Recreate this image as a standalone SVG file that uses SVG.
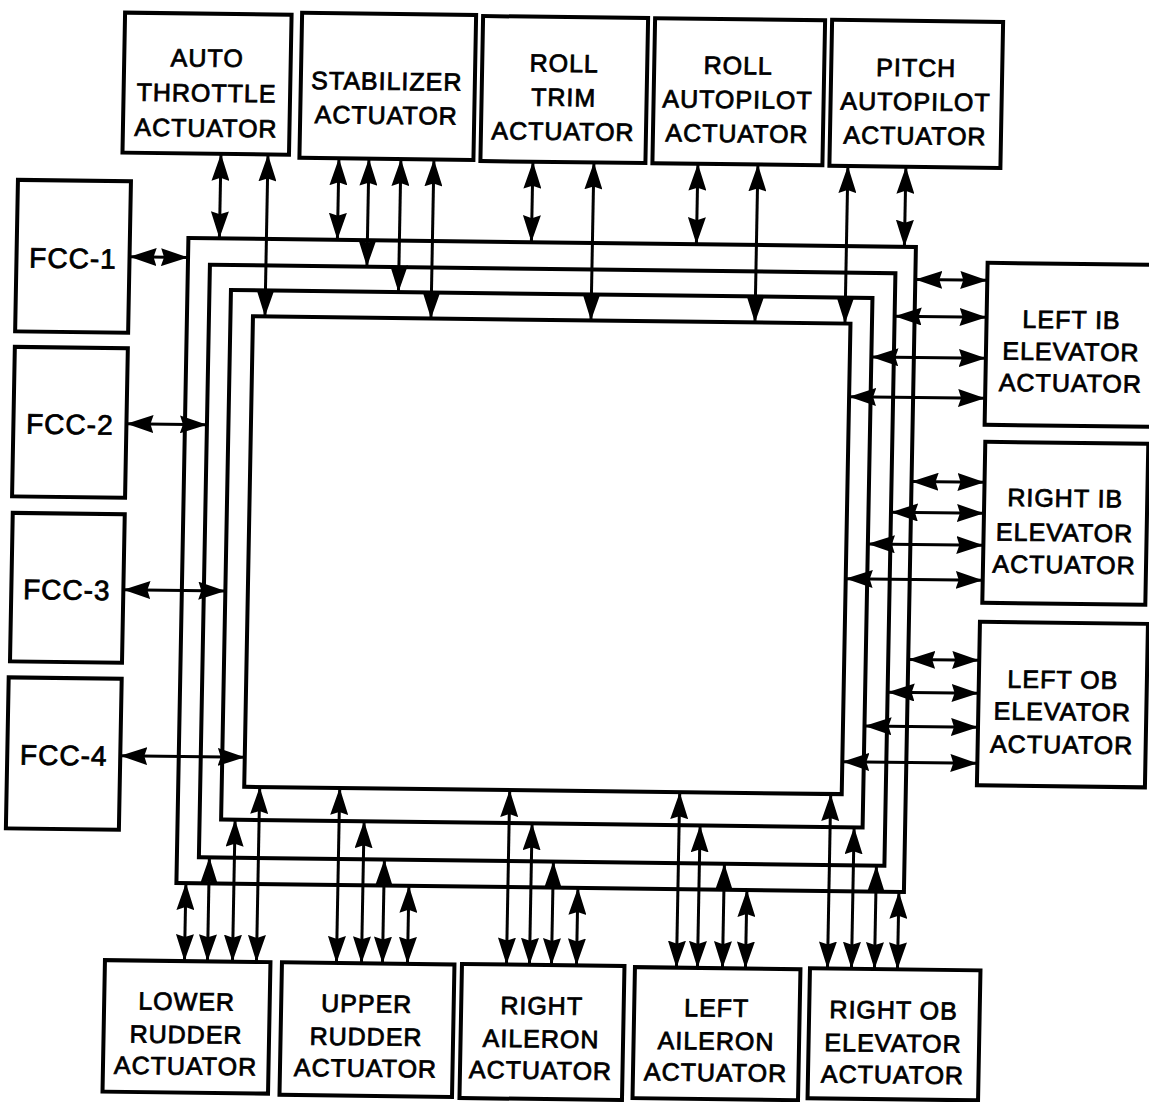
<svg xmlns="http://www.w3.org/2000/svg" width="1149" height="1102" viewBox="0 0 1149 1102">
<style>
.box{fill:#fff;stroke:#000;stroke-width:4}
.bus{fill:none;stroke:#000;stroke-width:4}
.c line{stroke:#000;stroke-width:3;marker-start:url(#ah);marker-end:url(#ah)}
text{font-family:"Liberation Sans",Arial,Helvetica,sans-serif;font-size:25px;text-anchor:middle;fill:#000;stroke:#000;stroke-width:0.8px;letter-spacing:1px}
.f{font-size:28px}
</style>
<defs>
<marker id="ah" viewBox="0 0 27 18" refX="27" refY="9" markerWidth="27" markerHeight="18" markerUnits="userSpaceOnUse" orient="auto-start-reverse"><path d="M0,0 L27,9 L0,18 L3,9 z" fill="#000"/></marker>
</defs>
<rect width="1149" height="1102" fill="#fff"/>
<g transform="matrix(1,0.0123,-0.0186,1,10.42,-6.77)">
<g id="buses">
<rect class="bus" x="182.5" y="242.5" width="727.5" height="645"/>
<rect class="bus" x="204.5" y="269" width="685.5" height="592.5"/>
<rect class="bus" x="226" y="294" width="641.5" height="529.5"/>
<rect class="bus" x="248.5" y="320" width="597.5" height="470.5"/>
</g>
<g id="auto-throttle"><rect class="box" x="115" y="18" width="166.5" height="140"/><text x="198" y="71">AUTO</text><text x="198" y="106">THROTTLE</text><text x="198" y="141">ACTUATOR</text></g>
<g id="stabilizer"><rect class="box" x="292" y="16" width="174" height="145"/><text x="378" y="92">STABILIZER</text><text x="378" y="126">ACTUATOR</text></g>
<g id="roll-trim"><rect class="box" x="473" y="17" width="165" height="145"/><text x="555" y="72">ROLL</text><text x="555" y="106">TRIM</text><text x="555" y="140">ACTUATOR</text></g>
<g id="roll-autopilot"><rect class="box" x="645" y="17" width="170" height="145"/><text x="729" y="72">ROLL</text><text x="729" y="106">AUTOPILOT</text><text x="729" y="140">ACTUATOR</text></g>
<g id="pitch-autopilot"><rect class="box" x="822" y="16.5" width="171" height="146"/><text x="907" y="72">PITCH</text><text x="907" y="106">AUTOPILOT</text><text x="907" y="140">ACTUATOR</text></g>
<g id="fcc1"><rect class="box" x="11" y="186.5" width="113" height="151.5"/><text class="f" x="67.5" y="274">FCC-1</text></g>
<g id="fcc2"><rect class="box" x="11" y="353.5" width="113" height="149.5"/><text class="f" x="67.5" y="440">FCC-2</text></g>
<g id="fcc3"><rect class="box" x="12" y="519.5" width="112" height="148.5"/><text class="f" x="67.5" y="605.5">FCC-3</text></g>
<g id="fcc4"><rect class="box" x="11" y="684" width="113" height="151"/><text class="f" x="67.5" y="771">FCC-4</text></g>
<g id="left-ib"><rect class="box" x="982" y="257.5" width="172" height="162"/><text x="1067" y="322">LEFT IB</text><text x="1067" y="354">ELEVATOR</text><text x="1067" y="385.5">ACTUATOR</text></g>
<g id="right-ib"><rect class="box" x="983" y="436.5" width="163" height="161"/><text x="1064" y="500.5">RIGHT IB</text><text x="1064" y="535">ELEVATOR</text><text x="1064" y="567">ACTUATOR</text></g>
<g id="left-ob"><rect class="box" x="981" y="616.5" width="168" height="163.5"/><text x="1065" y="682">LEFT OB</text><text x="1065" y="714">ELEVATOR</text><text x="1065" y="747">ACTUATOR</text></g>
<g id="lower-rudder"><rect class="box" x="112.5" y="965.5" width="165.5" height="131.5"/><text x="195" y="1014.5">LOWER</text><text x="195" y="1047.5">RUDDER</text><text x="195" y="1079">ACTUATOR</text></g>
<g id="upper-rudder"><rect class="box" x="289.5" y="965.5" width="172.5" height="132.5"/><text x="375" y="1014.5">UPPER</text><text x="375" y="1047.5">RUDDER</text><text x="375" y="1079">ACTUATOR</text></g>
<g id="right-aileron"><rect class="box" x="469.5" y="965" width="162.5" height="134"/><text x="550" y="1014.5">RIGHT</text><text x="550" y="1047.5">AILERON</text><text x="550" y="1079">ACTUATOR</text></g>
<g id="left-aileron"><rect class="box" x="642.5" y="966" width="165.5" height="131"/><text x="725" y="1014.5">LEFT</text><text x="725" y="1047.5">AILERON</text><text x="725" y="1079">ACTUATOR</text></g>
<g id="right-ob"><rect class="box" x="817.5" y="965" width="170.5" height="130"/><text x="902" y="1014.5">RIGHT OB</text><text x="902" y="1047.5">ELEVATOR</text><text x="902" y="1079">ACTUATOR</text></g>
<g id="connectors" class="c">
<line x1="213.5" y1="158" x2="213.5" y2="242.5"/>
<line x1="260.5" y1="158" x2="260.5" y2="320"/>
<line x1="331.5" y1="161" x2="331.5" y2="242.5"/>
<line x1="361.5" y1="161" x2="361.5" y2="269"/>
<line x1="393.5" y1="161" x2="393.5" y2="294"/>
<line x1="426.5" y1="161" x2="426.5" y2="320"/>
<line x1="525.5" y1="162" x2="525.5" y2="242.5"/>
<line x1="586.5" y1="162" x2="586.5" y2="320"/>
<line x1="690.5" y1="162" x2="690.5" y2="242.5"/>
<line x1="750.5" y1="162" x2="750.5" y2="320"/>
<line x1="840.5" y1="162.5" x2="840.5" y2="320"/>
<line x1="898.5" y1="162.5" x2="898.5" y2="242.5"/>
<line x1="124" y1="262" x2="182.5" y2="262"/>
<line x1="124" y1="429" x2="204.5" y2="429"/>
<line x1="124" y1="595" x2="226" y2="595"/>
<line x1="124" y1="761" x2="248.5" y2="761"/>
<line x1="982" y1="275" x2="910" y2="275"/>
<line x1="982" y1="312" x2="890" y2="312"/>
<line x1="982" y1="353" x2="867.5" y2="353"/>
<line x1="982" y1="393" x2="846" y2="393"/>
<line x1="983" y1="477" x2="910" y2="477"/>
<line x1="983" y1="508" x2="890" y2="508"/>
<line x1="983" y1="540" x2="867.5" y2="540"/>
<line x1="983" y1="575" x2="846" y2="575"/>
<line x1="981" y1="655" x2="910" y2="655"/>
<line x1="981" y1="688" x2="890" y2="688"/>
<line x1="981" y1="722" x2="867.5" y2="722"/>
<line x1="981" y1="758" x2="846" y2="758"/>
<line x1="192" y1="965.5" x2="192" y2="887.5"/>
<line x1="215" y1="965.5" x2="215" y2="861.5"/>
<line x1="240" y1="965.5" x2="240" y2="823.5"/>
<line x1="264" y1="965.5" x2="264" y2="790.5"/>
<line x1="344" y1="965.5" x2="344" y2="790.5"/>
<line x1="369" y1="965.5" x2="369" y2="823.5"/>
<line x1="390" y1="965.5" x2="390" y2="861.5"/>
<line x1="415" y1="965.5" x2="415" y2="887.5"/>
<line x1="514" y1="965" x2="514" y2="790.5"/>
<line x1="537" y1="965" x2="537" y2="823.5"/>
<line x1="559" y1="965" x2="559" y2="861.5"/>
<line x1="584" y1="965" x2="584" y2="887.5"/>
<line x1="684" y1="966" x2="684" y2="790.5"/>
<line x1="705" y1="966" x2="705" y2="823.5"/>
<line x1="730" y1="966" x2="730" y2="861.5"/>
<line x1="753" y1="966" x2="753" y2="887.5"/>
<line x1="835" y1="965" x2="835" y2="790.5"/>
<line x1="859" y1="965" x2="859" y2="823.5"/>
<line x1="882" y1="965" x2="882" y2="861.5"/>
<line x1="905" y1="965" x2="905" y2="887.5"/>
</g>
</g>
</svg>
